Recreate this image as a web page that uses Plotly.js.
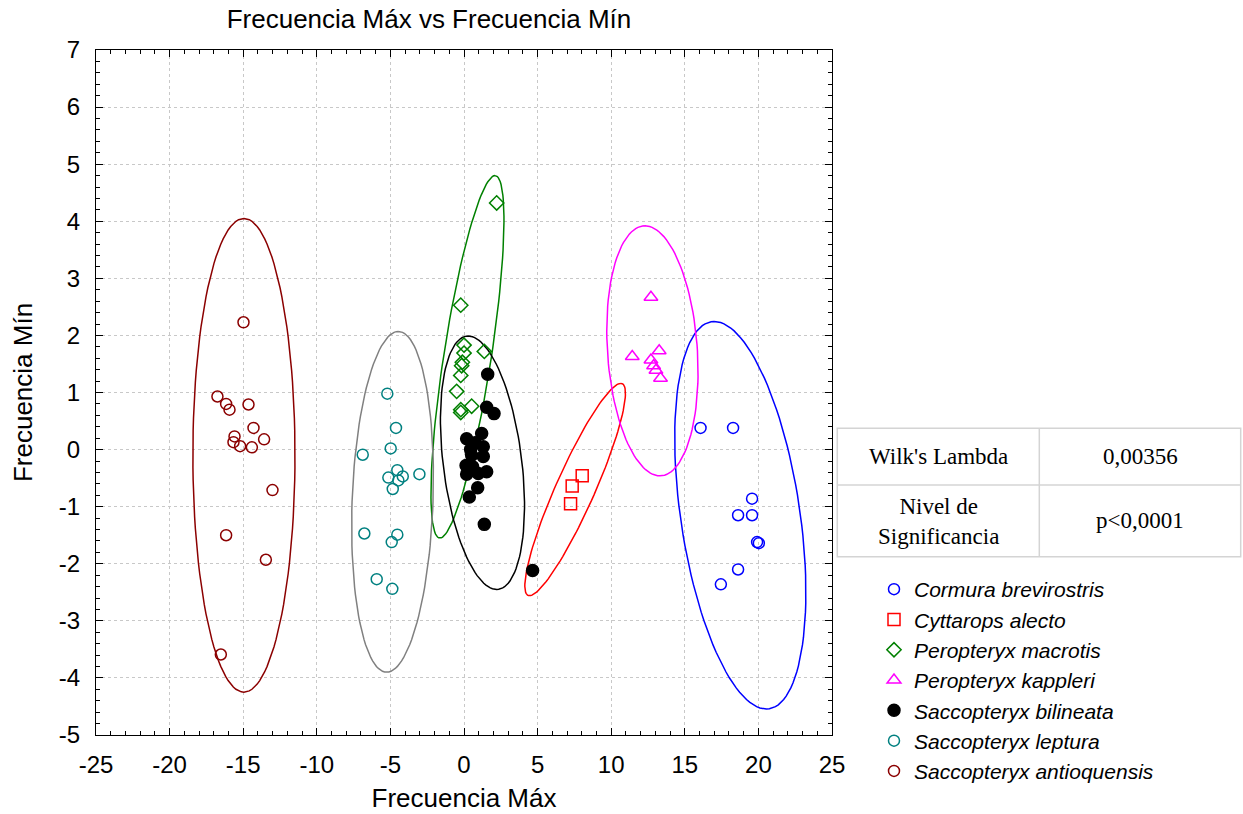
<!DOCTYPE html>
<html><head><meta charset="utf-8">
<script src="https://cdn.plot.ly/plotly-3.0.1.min.js"></script>
<style>html,body{margin:0;padding:0;background:#fff}#chart{width:1243px;height:814px}</style>
</head><body><div id="chart"></div>
<script>
// ---- data ----
const speciesNames = ['Cormura brevirostris','Cyttarops alecto','Peropteryx macrotis','Peropteryx kappleri','Saccopteryx bilineata','Saccopteryx leptura','Saccopteryx antioquensis'];

const cormuraX = [16.07,18.28,19.57,18.62,19.57,19.91,20.03,18.62,17.45];
const cormuraY = [0.38,0.38,-0.86,-1.15,-1.15,-1.62,-1.64,-2.10,-2.36];
const cyttaropsX = [8.03,7.35,7.24];
const cyttaropsY = [-0.46,-0.64,-0.95];
const macrotisX = [2.22,-0.22,0.0,0.0,1.38,-0.11,-0.16,-0.22,-0.50,0.52,-0.22,-0.22];
const macrotisY = [4.32,2.53,1.83,1.69,1.72,1.53,1.47,1.30,1.02,0.76,0.70,0.65];
const kappleriX = [12.70,11.43,13.26,12.70,12.88,13.04,13.35];
const kappleriY = [2.67,1.63,1.73,1.57,1.47,1.39,1.25];
const bilineataX = [1.61,1.54,2.04,1.20,0.18,0.75,1.31,0.45,0.52,1.31,0.14,0.59,1.54,0.18,0.97,0.93,0.36,1.38,4.66];
const bilineataY = [1.32,0.74,0.63,0.28,0.19,0.12,0.05,0.0,-0.10,-0.12,-0.28,-0.30,-0.39,-0.43,-0.42,-0.67,-0.83,-1.31,-2.12];
const lepturaX = [-5.21,-4.62,-4.98,-6.88,-4.53,-5.14,-4.16,-3.03,-4.46,-4.84,-6.77,-4.53,-4.91,-5.93,-4.87];
const lepturaY = [0.98,0.38,0.02,-0.09,-0.36,-0.49,-0.47,-0.43,-0.54,-0.69,-1.47,-1.49,-1.62,-2.27,-2.44];
const antioqX = [-14.98,-16.75,-16.16,-15.93,-14.64,-14.30,-15.59,-15.66,-15.21,-14.41,-13.58,-13.01,-16.16,-13.46,-16.52];
const antioqY = [2.23,0.93,0.80,0.70,0.79,0.38,0.23,0.13,0.06,0.04,0.18,-0.71,-1.50,-1.93,-3.59];

// 95% ellipses: centre, half-diameter to the top tip (ux,uy), horizontal half-chord through centre (v)
const ellCx = [18.77, 7.55, 0.235, 12.80, 1.255, -4.855, -14.95];
const ellCy = [-1.15, -0.70, 1.625, 1.73, -0.23, -0.915, -0.10];
const ellUx = [-1.77, 3.10, 1.87, -0.51, -0.965, 0.395, 0.0];
const ellUy = [3.395, 1.86, 3.175, 2.19, 2.22, 2.985, 4.15];
const ellV  = [4.09, 1.44, 1.63, 3.06, 2.69, 2.75, 3.47];

const xTickVals = [-25,-20,-15,-10,-5,0,5,10,15,20,25];
const xTickText = ['-25','-20','-15','-10','-5','0','5','10','15','20','25'];
const yTickVals = [-5,-4,-3,-2,-1,0,1,2,3,4,5,6,7];
const yTickText = ['-5','-4','-3','-2','-1','0','1','2','3','4','5','6','7'];

const tableLabels = ["Wilk's Lambda", 'Nivel de<br>Significancia'];
const tableValues = ['0,00356', 'p<0,0001'];

// ---- styles ----
const markerColors = ['#0000ff','#ff0000','#008000','#ff00ff','#000000','#008080','#8b0000'];
const ellColors    = ['#0000ff','#ff0000','#008000','#ff00ff','#000000','#808080','#8b0000'];
const symbols = ['circle-open','square-open','diamond-open','triangle-up-open','circle','circle-open','circle-open'];
const sizes = [11,12,11,12,12,11,11];

const seriesX = [cormuraX,cyttaropsX,macrotisX,kappleriX,bilineataX,lepturaX,antioqX];
const seriesY = [cormuraY,cyttaropsY,macrotisY,kappleriY,bilineataY,lepturaY,antioqY];

const traces = [];
for (let i = 0; i < speciesNames.length; i++) {
  const ex = [], ey = [];
  const N = 120;
  for (let k = 0; k <= N; k++) {
    const t = 2*Math.PI*k/N;
    ex.push(ellCx[i] + ellUx[i]*Math.cos(t) + ellV[i]*Math.sin(t));
    ey.push(ellCy[i] + ellUy[i]*Math.cos(t));
  }
  traces.push({x: ex, y: ey, type:'scatter', mode:'lines', showlegend:false, hoverinfo:'skip',
    line:{color: ellColors[i], width:1.5}});
}
for (let i = 0; i < speciesNames.length; i++) {
  traces.push({x: seriesX[i], y: seriesY[i], type:'scatter', mode:'markers', name: speciesNames[i],
    marker:{symbol: symbols[i], size: sizes[i], color: markerColors[i], line:{color: markerColors[i], width:1.5}}});
}

// ---- layout ----
const W = 1243, H = 814;
const M = {l:96, r:411, t:50, b:79};
const PW = W - M.l - M.r, PH = H - M.t - M.b;
const px = x => (x - M.l) / PW;          // pixel -> paper x
const py = y => (H - M.b - y) / PH;      // pixel -> paper y

const border = '#d4d4d4';
const tL = 837.3, tR = 1240.7, tM = 1039.3, tT = 428.3, tMid = 485, tB = 556.7;
const shapes = [
  {type:'rect', xref:'paper', yref:'paper', x0:px(tL), x1:px(tR), y0:py(tB), y1:py(tT), line:{color:border, width:1.5}},
  {type:'line', xref:'paper', yref:'paper', x0:px(tL), x1:px(tR), y0:py(tMid), y1:py(tMid), line:{color:border, width:1.5}},
  {type:'line', xref:'paper', yref:'paper', x0:px(tM), x1:px(tM), y0:py(tB), y1:py(tT), line:{color:border, width:1.5}}
];
const tfont = {family:'"Liberation Serif","Times New Roman",serif', size:23, color:'#000'};
const cell = (x, y, txt) => ({xref:'paper', yref:'paper', x:px(x), y:py(y), text:txt, showarrow:false,
  xanchor:'center', yanchor:'middle', align:'center', font:tfont});
const annotations = [
  cell((tL+tM)/2, (tT+tMid)/2, tableLabels[0]),
  cell((tM+tR)/2, (tT+tMid)/2, tableValues[0]),
  cell((tL+tM)/2, (tMid+tB)/2 + 1, tableLabels[1]),
  cell((tM+tR)/2, (tMid+tB)/2, tableValues[1])
];

const sans = '"Liberation Sans", Arial, sans-serif';
const axisCommon = {
  showline:true, linecolor:'#000', linewidth:1, mirror:'ticks',
  ticks:'inside', ticklen:7, tickcolor:'#000', tickwidth:1,
  showgrid:true, gridcolor:'#c8c8c8', griddash:'dot', gridwidth:1,
  zeroline:false, tickmode:'array', tickfont:{family:sans, size:24, color:'#000'},
  automargin:false
};

const layout = {
  width:W, height:H, margin:M, paper_bgcolor:'#fff', plot_bgcolor:'#fff',
  showlegend:true,
  title:{text:'Frecuencia Máx vs Frecuencia Mín', x:429/W, xref:'container', xanchor:'center',
         y:1-19/H, yref:'container', yanchor:'middle', font:{family:sans, size:26, color:'#000'}},
  xaxis: Object.assign({}, axisCommon, {range:[-25,25], tickvals:xTickVals, ticktext:xTickText,
         ticklabelstandoff:8,
         minor:{tickmode:'linear', tick0:0, dtick:1, ticks:'inside', ticklen:4, tickcolor:'#000', showgrid:false},
         title:{text:'Frecuencia Máx', font:{family:sans, size:26, color:'#000'}, standoff:12}}),
  yaxis: Object.assign({}, axisCommon, {range:[-5,7], tickvals:yTickVals, ticktext:yTickText,
         ticklabelstandoff:10,
         minor:{tickmode:'linear', tick0:0, dtick:0.2, ticks:'inside', ticklen:4, tickcolor:'#000', showgrid:false},
         title:{text:'Frecuencia Mín', font:{family:sans, size:26, color:'#000'}, standoff:18}}),
  legend:{x:px(874), y:py(569), xanchor:'left', yanchor:'top', bgcolor:'rgba(0,0,0,0)',
          font:{family:sans, size:21, color:'#000', style:'italic'}, itemwidth:30},
  shapes: shapes, annotations: annotations
};

Plotly.newPlot('chart', traces, layout, {displayModeBar:false, staticPlot:true});
</script></body></html>
